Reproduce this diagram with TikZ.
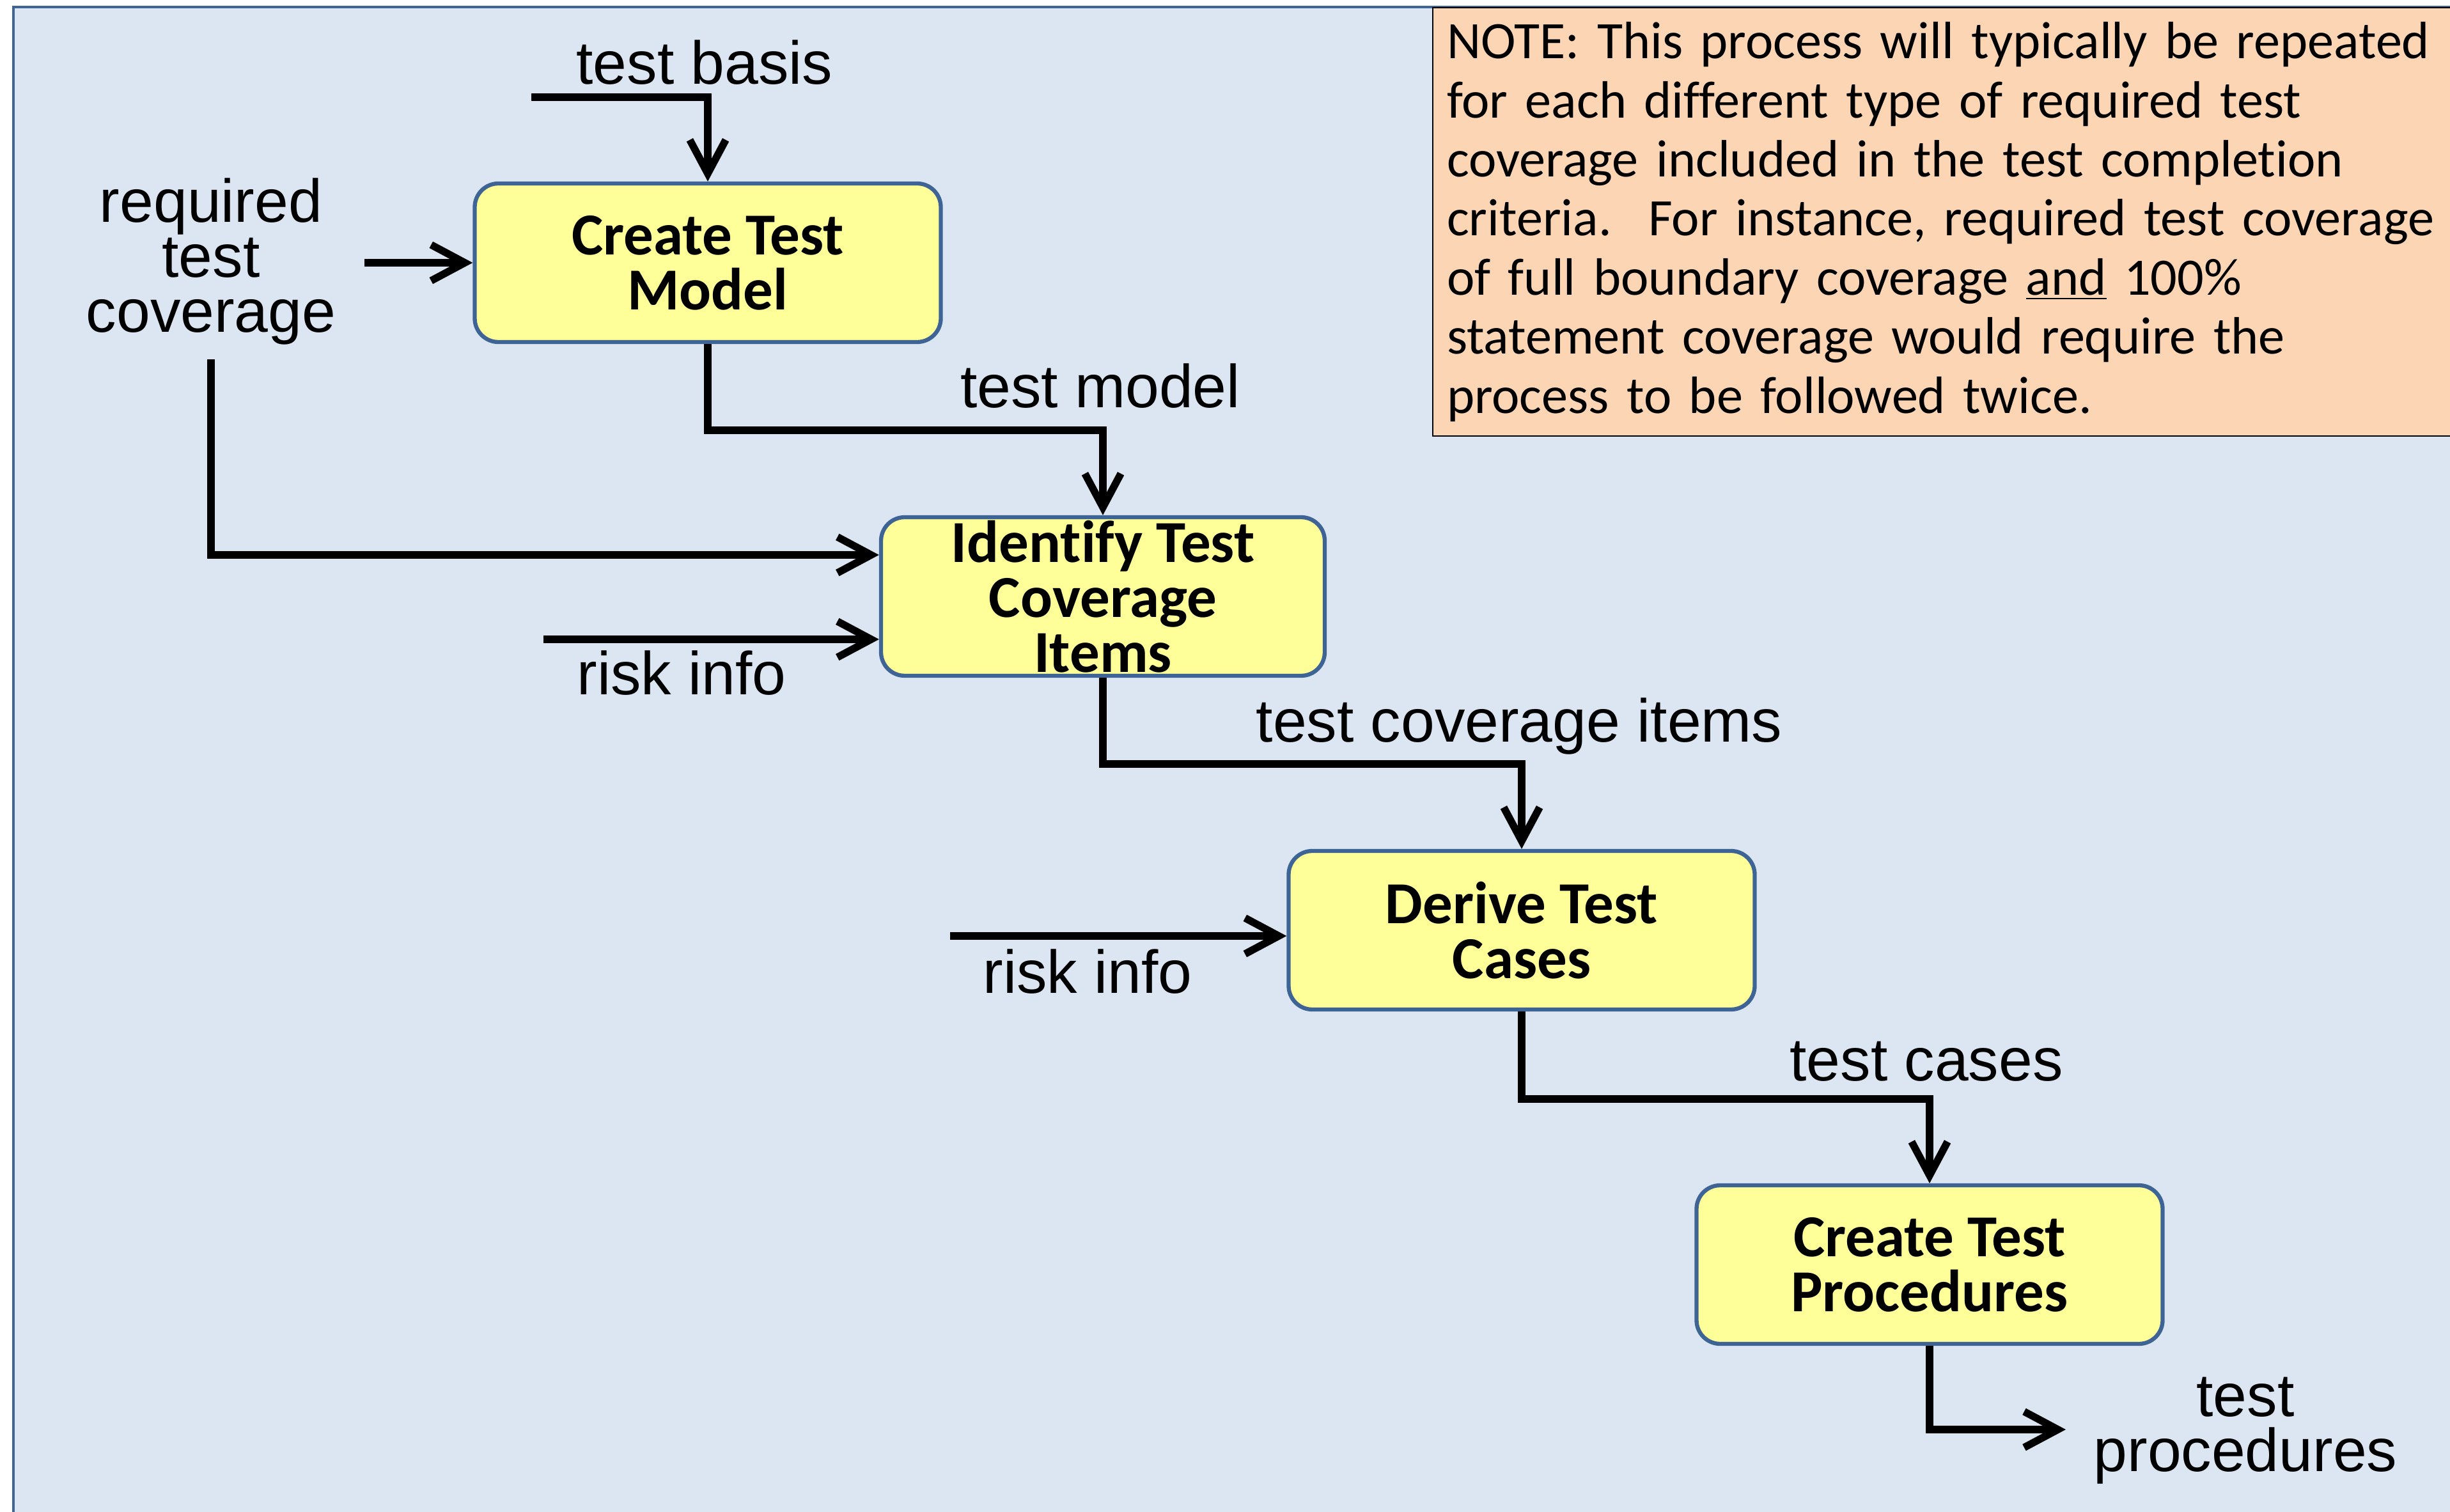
\documentclass[tikz,border=0pt]{standalone}
\usepackage{fontspec}
\setmainfont{Liberation Sans}
\newfontfamily\calibri[Ligatures=NoCommon]{Carlito}
\usetikzlibrary{arrows.meta}

\definecolor{panelblue}{HTML}{DCE6F2}
\definecolor{paneledge}{HTML}{3F6597}
\definecolor{stepfill}{HTML}{FFFF99}
\definecolor{stepedge}{HTML}{3E6496}
\definecolor{notefill}{HTML}{FCD5B5}

\tikzset{
  stepbox/.style={draw=stepedge, line width=1.8pt, fill=stepfill, rounded corners=0.37cm,
    minimum width=7.29cm, minimum height=2.48cm, inner xsep=0pt, inner ysep=-20pt,
    align=center, font=\calibri\bfseries\fontsize{26.5}{24.5}\selectfont},
  lbl/.style={inner sep=0pt, align=center, font=\fontsize{27}{24.5}\selectfont},
  flow/.style={line width=3.3pt, -{Straight Barb[length=15pt, width=16pt]}}
}

\begin{document}
\begin{tikzpicture}
\useasboundingbox (0,0) rectangle (38.32,-23.65);
\draw[draw=paneledge, line width=1.3pt, fill=panelblue] (0.21,-0.11) rectangle (38.8,-24.2);

% note
\node[draw=black, line width=0.6pt, fill=notefill, anchor=north west, inner xsep=0.22cm,
      minimum height=6.70cm, text width=16.6cm, align=left,
      font=\calibri\fontsize{23.4}{26.3}\selectfont\frenchspacing] (note) at (22.40,-0.11)
  {NOTE: This process will typically be repeated\\
   for each different type of required test\\
   coverage included in the test completion\\
   criteria.\hspace{0.7em}For instance, required test coverage\\
   of full boundary coverage \underline{and} 100\%\\
   statement coverage would require the\\
   process to be followed twice.};

% process steps
\node[stepbox] (model) at (11.07,-4.11) {Create Test\\Model};
\node[stepbox, minimum width=6.94cm] (items) at (17.25,-9.33) {Identify Test\\Coverage\\Items};
\node[stepbox] (cases) at (23.80,-14.55) {Derive Test\\Cases};
\node[stepbox] (procs) at (30.18,-19.78) {Create Test\\Procedures};

% labels
\node[lbl] (basislbl) at (11.02,-0.98) {test basis};
\node[lbl] (coverlbl) at (3.30,-4.09) {required\\test\\coverage};
\node[lbl] (modellbl) at (17.21,-6.04) {test model};
\node[lbl] (riskalbl) at (10.66,-10.53) {risk info};
\node[lbl] (itemslbl) at (23.76,-11.36) {test coverage items};
\node[lbl] (riskblbl) at (17.01,-15.20) {risk info};
\node[lbl] (caseslbl) at (30.13,-16.60) {test cases};
\node[lbl] (procslbl) at (35.12,-22.38) {test\\procedures};

% free ends
\coordinate (basisin) at (8.31,-1.52);
\coordinate (coverin) at (5.70,-4.11);
\coordinate (coverdown) at (3.30,-5.62);
\coordinate (riskain) at (8.50,-10.00);
\coordinate (riskbin) at (14.86,-14.64);
\coordinate (procsout) at (32.31,-22.36);

% flows
\draw[flow] (basisin) -| (model.north);
\draw[flow] (coverin) -- (model.west);
\draw[flow] (coverdown) |- ([yshift=0.65cm]items.west);
\draw[flow] (riskain) -- ([yshift=-0.67cm]items.west);
\draw[flow] (model.south) -- ++(0,-1.35) -| (items.north);
\draw[flow] (items.south) -- ++(0,-1.35) -| (cases.north);
\draw[flow] (riskbin) -- ([yshift=-0.09cm]cases.west);
\draw[flow] (cases.south) -- ++(0,-1.37) -| (procs.north);
\draw[flow] (procs.south) |- (procsout);
\end{tikzpicture}
\end{document}
